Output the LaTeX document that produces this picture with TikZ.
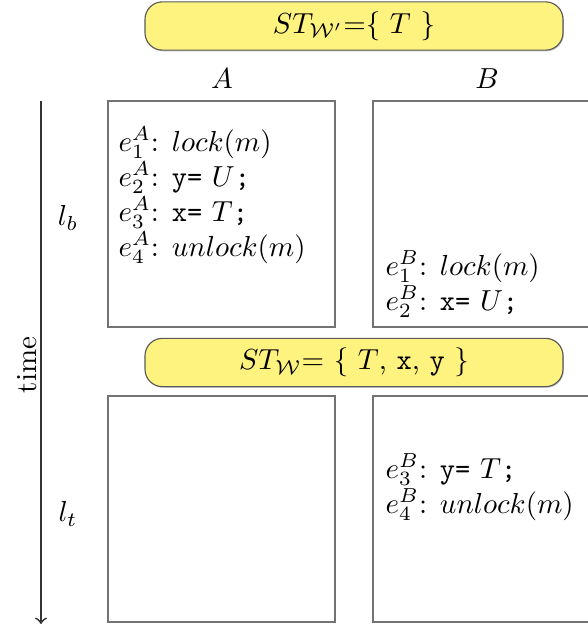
\documentclass[tikz,border=0pt]{standalone}
\usepackage{amsmath, amssymb}
\usepackage{tikz}
\definecolor{stickyyellow}{RGB}{255,243,128}
\definecolor{framegray}{RGB}{90,90,90}
\usetikzlibrary{shadows}

\begin{document}
\begin{tikzpicture}[x=0.345pt, y=-0.345pt,
		>=to,   % pfeilspitzen
		cell/.style={draw=black!55, minimum width=78.3pt, minimum height=78pt, inner sep=0pt},
		stbox/.style={draw=framegray, fill=stickyyellow, rounded corners=6pt, minimum width=144.2pt, minimum height=16.6pt,
			drop shadow={shadow xshift=0.3pt, shadow yshift=-0.4pt, opacity=0.45}},
		evt/.style={anchor=base west, inner sep=0pt}]
		\useasboundingbox (0,0) rectangle (588,630);
		% Sperrmengen
		\node[stbox] (stW1) at (354,26) {$ST_{\mathcal{W}'}$=\{ $T$ \}};
		\node[stbox] (stW) at (354,362.5) {$ST_{\mathcal{W}}$= \{ $T$, \texttt{x}, \texttt{y} \}};
		% Threads
		\node (thA) at (222,79) {$A$};
		\node (thB) at (487,79) {$B$};
		% Zellen
		\node[cell] (Ab) at (221.5,214) {};
		\node[cell] (Bb) at (486.5,214) {};
		\node[cell] (At) at (221.5,509) {};
		\node[cell] (Bt) at (486.5,509) {};
		% Zeitachse
		\coordinate (tstart) at (41,101);
		\coordinate (tend) at (41,624);
		\draw[->, black!80, semithick] (tstart) -- (tend);
		\node[rotate=90] (time) at (27,365) {time};
		\node (lb) at (68,218) {$l_b$};
		\node (lt) at (68,514) {$l_t$};
		% Ereignisse A
		\node[evt] (eA1) at (118,151) {$e^A_1$: $lock(m)$};
		\node[evt] (eA2) at (118,186) {$e^A_2$: \texttt{y=} $U$\texttt{;}};
		\node[evt] (eA3) at (118,221) {$e^A_3$: \texttt{x=} $T$\texttt{;}};
		\node[evt] (eA4) at (118,256) {$e^A_4$: $unlock(m)$};
		% Ereignisse B
		\node[evt] (eB1) at (385,275) {$e^B_1$: $lock(m)$};
		\node[evt] (eB2) at (385,310) {$e^B_2$: \texttt{x=} $U$\texttt{;}};
		\node[evt] (eB3) at (385,478) {$e^B_3$: \texttt{y=} $T$\texttt{;}};
		\node[evt] (eB4) at (385,513) {$e^B_4$: $unlock(m)$};
	\end{tikzpicture}
\end{document}
